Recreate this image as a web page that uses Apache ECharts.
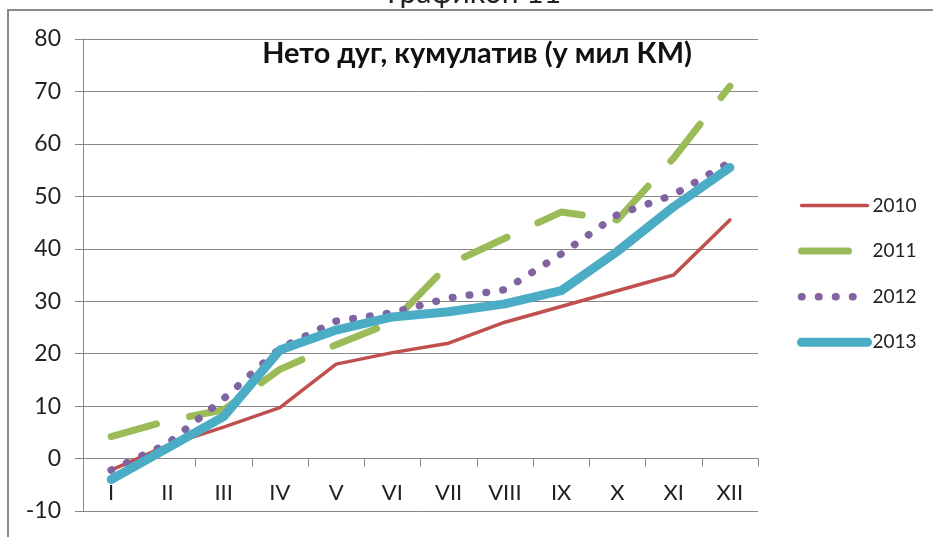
<!DOCTYPE html>
<html>
<head>
<meta charset="utf-8">
<title>Нето дуг, кумулатив</title>
<script src="https://cdn.jsdelivr.net/npm/echarts@6/dist/echarts.min.js"></script>
<style>
    html, body { margin: 0; padding: 0; background: #fff; }
    #chart { width: 933px; height: 537px; }
</style>
</head>
<body>
<div id="chart"></div>
<script>
// месеци
var months = ['I', 'II', 'III', 'IV', 'V', 'VI', 'VII', 'VIII', 'IX', 'X', 'XI', 'XII'];
var years = ['2010', '2011', '2012', '2013'];
// вриједности по годинама (у мил КМ)
var d2010 = [-2.2, 2.5, 6, 9.7, 18, 20.2, 22, 26, 29, 32, 35, 45.5];
var d2011 = [4.2, 7.2, 9.3, 17, 21.7, 26, 37, 42, 47, 45.5, 57.3, 71];
var d2012 = [-2.2, 2.8, 11.4, 21, 26.2, 27.8, 30.6, 32.2, 39, 46.5, 50.3, 56.5];
var d2013 = [-4, 2, 8, 20.7, 24.5, 27, 28, 29.5, 32, 39.5, 48, 55.5];
var yMin = -10, yMax = 80, yStep = 10;

var font = 'Lato, "Open Sans", sans-serif';
var gray = '#878787';

var lineChart = function () {
    var myChart = echarts.init(document.getElementById('chart'));
    var option = {
        animation: false,
        title: {
            text: 'Нето дуг, кумулатив (у мил КМ)',
            left: 472,
            top: 34,
            textAlign: 'center',
            textStyle: {
                fontFamily: font,
                fontWeight: 'bold',
                fontSize: 28.9,
                color: '#111'
            }
        },
        graphic: [
            {
                type: 'rect',
                shape: {x: 8, y: 10, width: 1000, height: 1000},
                style: {fill: 'none', stroke: '#8a8a8a', lineWidth: 2},
                silent: true
            },
            {
                type: 'text',
                style: {
                    text: 'Графикон 11',
                    x: 474,
                    y: -7,
                    align: 'center',
                    verticalAlign: 'middle',
                    fontFamily: font,
                    fontSize: 30,
                    fill: '#222'
                }
            }
        ],
        legend: {
            orient: 'vertical',
            left: 797,
            top: 196,
            padding: 0,
            itemWidth: 66,
            itemHeight: 14,
            itemGap: 26.6,
            data: years,
            itemStyle: {opacity: 0},
            lineStyle: {width: 'inherit'},
            textStyle: {
                fontFamily: font,
                fontSize: 19,
                color: '#222'
            }
        },
        grid: {
            left: 83,
            right: 175,
            top: 39,
            bottom: 26,
            outerBoundsMode: 'none'
        },
        xAxis: {
            type: 'category',
            data: months,
            boundaryGap: true,
            axisLine: {onZero: true, lineStyle: {color: gray, width: 1}},
            axisTick: {show: true, interval: 0, length: 8, lineStyle: {color: gray}},
            axisLabel: {
                interval: 0,
                margin: -29,
                fontFamily: font,
                fontSize: 22,
                color: '#222'
            },
            splitLine: {show: false}
        },
        yAxis: {
            type: 'value',
            min: yMin,
            max: yMax,
            interval: yStep,
            axisLine: {show: true, lineStyle: {color: gray, width: 1}},
            axisTick: {show: true, length: 8, lineStyle: {color: gray}},
            axisLabel: {
                margin: 22,
                fontFamily: font,
                fontSize: 23,
                color: '#222'
            },
            splitLine: {lineStyle: {color: gray, width: 1}}
        },
        series: [
            {
                name: '2010',
                type: 'line',
                data: d2010,
                symbol: 'none',
                color: '#C0504D',
                lineStyle: {width: 3.5, color: '#C0504D', cap: 'round', join: 'round'}
            },
            {
                name: '2011',
                type: 'line',
                data: d2011,
                symbol: 'none',
                color: '#9BBB59',
                lineStyle: {width: 7, color: '#9BBB59', type: [47, 34], cap: 'round', join: 'round'}
            },
            {
                name: '2012',
                type: 'line',
                data: d2012,
                symbol: 'none',
                color: '#8064A2',
                lineStyle: {width: 7.5, color: '#8064A2', type: [0.5, 16.5], cap: 'round', join: 'round'}
            },
            {
                name: '2013',
                type: 'line',
                data: d2013,
                symbol: 'none',
                color: '#4BACC6',
                lineStyle: {width: 9, color: '#4BACC6', cap: 'round', join: 'round'}
            }
        ]
    };
    myChart.setOption(option);
};
lineChart();
</script>
</body>
</html>
